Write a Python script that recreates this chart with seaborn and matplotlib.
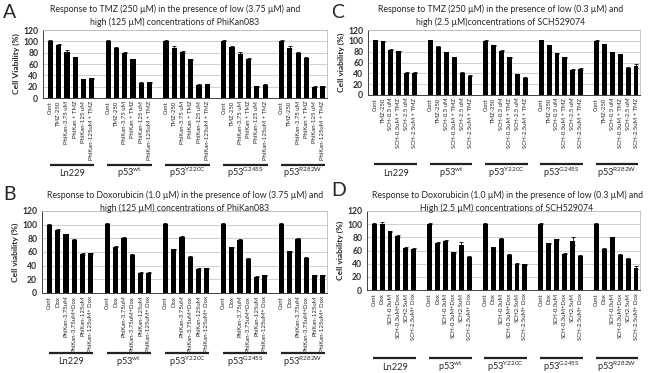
import numpy as np
import pandas as pd
import seaborn as sns
import matplotlib
matplotlib.use("Agg")
import matplotlib.pyplot as plt
from matplotlib.transforms import blended_transform_factory

sns.set_theme(style="white")
plt.rcParams['font.family'] = ['Lato', 'DejaVu Sans']
plt.rcParams['mathtext.fontset'] = 'custom'
plt.rcParams['mathtext.rm'] = 'Lato'

groups = ['Ln229', 'p53$^{\\mathrm{wt}}$', 'p53$^{\\mathrm{Y220C}}$',
          'p53$^{\\mathrm{G245S}}$', 'p53$^{\\mathrm{R282W}}$']

# Panel A
a_cats = ['Cont', 'TMZ-250', 'PhiKan-3.75 uM', 'PhiKan + TMZ',
          'PhiKan-125 uM', 'PhiKan-125uM + TMZ']
a_vals = [[101, 94, 81, 72, 33, 35],
          [101, 89, 80, 68, 27, 28],
          [100, 88, 81, 68, 23, 24],
          [101, 90, 77, 69, 21, 23],
          [101, 89, 80, 71, 20, 21]]
a_errs = [[2, 1, 4, 1, 1, 1],
          [1, 1, 1, 1, 1, 1],
          [2, 4, 2, 1, 1, 1],
          [1, 1, 4, 1, 1, 1],
          [1, 2, 2, 1, 1, 1]]

# Panel B
b_cats = ['Cont', 'Dox', 'PhiKan-3.75uM', 'PhiKan-3.75uM+Dox',
          'PhiKan-125uM', 'PhiKan-125uM+ Dox']
b_vals = [[100, 92, 86, 78, 57, 58],
          [101, 68, 81, 56, 30, 30],
          [101, 64, 82, 53, 35, 36],
          [101, 67, 78, 50, 24, 26],
          [101, 61, 79, 51, 26, 26]]
b_errs = [[1, 1, 1, 1, 1, 1],
          [1, 1, 1, 1, 1, 1],
          [1, 1, 2, 1, 1, 1],
          [1, 1, 1, 1, 1, 1],
          [1, 1, 1, 1, 1, 1]]

# Panel C
c_cats = ['Cont', 'TMZ-250', 'SCH-0.3 uM', 'SCH-0.3uM + TMZ',
          'SCH-2.5 uM', 'SCH-2.5uM + TMZ']
c_vals = [[101, 99, 84, 81, 41, 41],
          [101, 89, 79, 70, 41, 36],
          [100, 92, 82, 70, 38, 32],
          [101, 92, 77, 70, 47, 48],
          [100, 94, 79, 75, 50, 53]]
c_errs = [[1, 1, 1, 1, 1, 1],
          [1, 1, 1, 1, 1, 1],
          [1, 1, 1, 1, 1, 1],
          [1, 1, 1, 1, 1, 1],
          [1, 1, 1, 1, 2, 4]]

# Panel D
d_cats = ['Cont', 'Dox', 'SCH-0.3uM', 'SCH-0.3uM+Dox',
          'SCH2.5uM', 'SCH-2.5uM+ Dox']
d_vals = [[101, 101, 89, 82, 64, 63],
          [101, 72, 75, 57, 68, 50],
          [101, 65, 78, 53, 40, 39],
          [101, 71, 77, 55, 75, 52],
          [101, 63, 80, 53, 47, 34]]
d_errs = [[1, 2, 1, 1, 1, 1],
          [1, 1, 1, 1, 5, 1],
          [1, 1, 1, 1, 1, 1],
          [1, 1, 1, 1, 6, 1],
          [1, 1, 1, 1, 2, 2]]

W, H = 650, 373
fig = plt.figure(figsize=(W / 100, H / 100), dpi=100)


def rect(x0, y0, x1, y1):
    return [x0 / W, 1 - y1 / H, (x1 - x0) / W, (y1 - y0) / H]


def panel(r, cats, vals, errs, title, ylabel, letter, letter_xy,
          title_xy, line_y, label_y):
    ax = fig.add_axes(rect(*r))
    rows = []
    for gi, g in enumerate(groups):
        for ci, c in enumerate(cats):
            rows.append(dict(pos=gi * 7 + ci, val=vals[gi][ci],
                             err=errs[gi][ci], cat=c, grp=gi))
    df = pd.DataFrame(rows)
    ax.yaxis.grid(True, color='#c8c8c8', lw=0.6)
    ax.set_axisbelow(True)
    sns.barplot(data=df, x='pos', y='val', native_scale=True, color='black',
                width=0.62, errorbar=None, ax=ax, saturation=1,
                linewidth=0)
    ax.errorbar(df['pos'], df['val'], yerr=df['err'], fmt='none',
                ecolor='black', elinewidth=0.6, capsize=1.1, capthick=0.6)
    ax.set_ylim(0, 120)
    ax.set_yticks(range(0, 121, 20))
    ax.set_xlim(-0.9, df['pos'].max() + 0.5)
    ax.set_xticks(df['pos'])
    ax.set_xticklabels(df['cat'], rotation=90, fontsize=4.3)
    ax.tick_params(axis='y', labelsize=6.2, length=2, width=0.5, pad=1.5,
                   colors='#303030')
    ax.tick_params(axis='x', length=0, pad=2)
    for t in ax.get_yticklabels():
        t.set_fontweight('bold')
    ax.set_xlabel('')
    ax.set_ylabel(ylabel, fontsize=6.0, fontweight='bold', labelpad=2)
    for s in ['top', 'right']:
        ax.spines[s].set_color('#bdbdbd')
        ax.spines[s].set_linewidth(0.6)
    for s in ['left', 'bottom']:
        ax.spines[s].set_color('#404040')
        ax.spines[s].set_linewidth(0.7)
    tr = blended_transform_factory(ax.transData, fig.transFigure)
    for gi, g in enumerate(groups):
        sub = df[df['grp'] == gi]
        x0, x1 = sub['pos'].min() - 0.1, sub['pos'].max() + 0.3
        ax.plot([x0, x1], [1 - line_y / H] * 2, color='#222222', lw=1.6,
                transform=tr, clip_on=False, solid_capstyle='butt')
        ax.text((x0 + x1) / 2, 1 - label_y / H, g, transform=tr,
                ha='center', va='center', fontsize=6.6)
    fig.text(title_xy[0] / W, 1 - title_xy[1] / H, title, ha='center',
             va='center', fontsize=6.3, linespacing=1.4)
    fig.text(letter_xy[0] / W, 1 - letter_xy[1] / H, letter, ha='left',
             va='center', fontsize=14)
    return ax


panel((43, 30, 327, 98), a_cats, a_vals, a_errs,
      'Response to TMZ (250 µM) in the presence of low (3.75 µM) and\n'
      'high (125 µM) concentrations of PhiKan083',
      'Cell Viability (%)', 'A', (3, 12), (175, 16), 165, 173)
panel((42, 211, 327, 293), b_cats, b_vals, b_errs,
      'Response to Doxorubicin (1.0 µM) in the presence of low (3.75 µM) and\n'
      'high (125 µM) concentrations of PhiKan083',
      'Cell viability (%)', 'B', (3, 194), (185, 202), 353, 362)
panel((368, 30, 640, 95), c_cats, c_vals, c_errs,
      'Response to TMZ (250 µM) in the presence of low (0.3 µM) and\n'
      'high (2.5 µM)concentrations of SCH529074',
      'Cell viability (%)', 'C', (331, 12), (501, 16), 164, 173)
panel((367, 211, 640, 290), d_cats, d_vals, d_errs,
      'Response to Doxorubicin (1.0 µM) in the presence of low (0.3 µM) and\n'
      'High (2.5 µM) concentrations of SCH529074',
      'Cell viability (%)', 'D', (331, 190), (507, 202), 358, 367)

fig.savefig('out.png', dpi=100)
